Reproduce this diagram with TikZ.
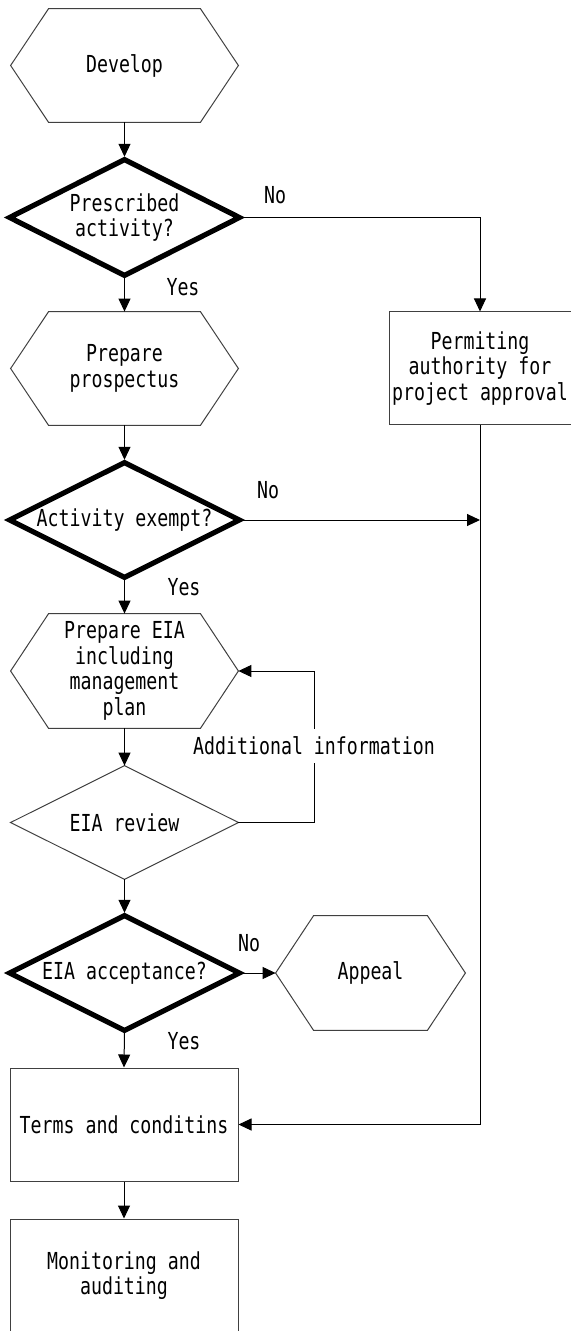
\documentclass[tikz,border=0pt]{standalone}
\usepackage{fontspec}
\newfontfamily\flowfont[FakeStretch=0.78]{DejaVu Sans Mono}
\usetikzlibrary{arrows.meta,calc}

\begin{document}
\begin{tikzpicture}[x=0.5pt,y=-0.5pt,
  font=\flowfont\fontsize{11.7pt}{12.8pt}\selectfont,
  block/.style={minimum width=113.5pt,minimum height=56.5pt,align=center,inner sep=0pt},
  boxline/.style={draw=black!75,line width=0.5pt},
  hexline/.style={draw=black!75,line width=0.5pt},
  thickdia/.style={draw=black,line width=2.6pt},
  thindia/.style={draw=black!75,line width=0.5pt},
  arr/.style={-{Triangle[length=6.5pt,width=6pt]},line width=0.5pt},
  lbl/.style={inner sep=1pt}]
 			\useasboundingbox (0,0) rectangle (571,1331);
 			\node[block] (develop) at (124.5,65.5) {Develop};
 			\node[block,minimum width=114.5pt,minimum height=57.5pt] (presc) at (124.5,217.5) {Prescribed\\activity?};
 			\node[block] (prosp) at (124.5,368.5) {Prepare\\prospectus};
 			\node[block,minimum width=91pt,boxline] (permit) at (480,368.5) {Permiting\\authority for\\project approval};
 			\node[block,minimum width=114.5pt,minimum height=57pt] (exempt) at (124.5,520) {Activity exempt?};
 			\node[block,minimum height=57pt] (eia) at (124.5,671) {Prepare EIA\\including\\management\\plan};
 			\node[block] (review) at (124.5,822.5) {EIA review};
 			\node[block,minimum width=114.5pt,minimum height=57pt] (accept) at (124.5,973) {EIA acceptance?};
 			\node[block,minimum width=94.5pt,minimum height=57pt] (appeal) at (370.5,973) {Appeal};
 			\node[block,minimum width=114pt,boxline] (terms) at (124,1124.5) {Terms and conditins};
 			\node[block,minimum width=114pt,boxline] (monit) at (124,1275.5) {Monitoring and\\auditing};
 			\foreach \n in {develop,prosp,eia,appeal}
 			  \draw[hexline] (\n.west) -- ($(\n.north west)+(38,0)$) -- ($(\n.north east)+(-38,0)$) -- (\n.east) -- ($(\n.south east)+(-38,0)$) -- ($(\n.south west)+(38,0)$) -- cycle;
 			\foreach \n in {presc,exempt,accept}
 			  \draw[thickdia] (\n.north) -- (\n.east) -- (\n.south) -- (\n.west) -- cycle;
 			\draw[thindia] (review.north) -- (review.east) -- (review.south) -- (review.west) -- cycle;
 			\draw[arr,shorten >=1.4pt] (develop.south) -- (presc.north);
 			\draw[arr] (presc.east) -| (permit.north);
 			\draw[arr] (presc.south) -- (prosp.north);
 			\draw[arr,shorten >=1.4pt] (prosp.south) -- (exempt.north);
 			\coordinate (join) at (permit.south |- exempt.east);
 			\draw[arr] (exempt.east) -- (join);
 			\draw[arr] (exempt.south) -- (eia.north);
 			\draw[arr] (eia.south) -- (review.north);
 			\draw[arr] (review.east) -- ++(76,0) |- (eia.east);
 			\draw[arr,shorten >=1.4pt] (review.south) -- (accept.north);
 			\draw[arr] (accept.east) -- (appeal.west);
 			\draw[arr] (accept.south) -- (terms.north);
 			\draw[arr] (permit.south) |- (terms.east);
 			\draw[arr] (terms.south) -- (monit.north);
 			\node[lbl] (no1) at (275,195) {No};
 			\node[lbl] (yes1) at (183,287) {Yes};
 			\node[lbl] (no2) at (268,490) {No};
 			\node[lbl] (yes2) at (184,587) {Yes};
 			\node[lbl,fill=white,inner ysep=4pt] (addinfo) at (314,746) {Additional information};
 			\node[lbl] (no3) at (249,943) {No};
 			\node[lbl] (yes3) at (184,1041) {Yes};
 		\end{tikzpicture}
\end{document}
